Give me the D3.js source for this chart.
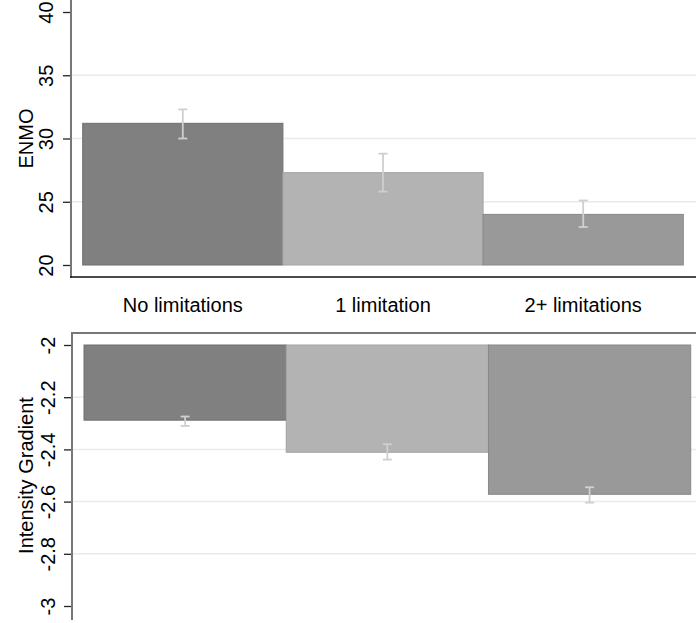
<!DOCTYPE html>
<html>
<head>
<meta charset="utf-8">
<script src="https://cdn.jsdelivr.net/npm/d3@7"></script>
<style>
  html, body { margin: 0; padding: 0; background: #fff; }
  svg { display: block; font-family: "Liberation Sans", Arial, sans-serif; }
</style>
</head>
<body>
<svg id="chart" width="696" height="623"></svg>
<script>
// Activity groups
const categories = ["No limitations", "1 limitation", "2+ limitations"];

// ENMO: group means with 95% CI
const enmoMean = [31.2, 27.3, 24.0];
const enmoLow  = [30.0, 25.8, 23.0];
const enmoHigh = [32.3, 28.8, 25.1];
const enmoTicks = [20, 25, 30, 35, 40];

// Intensity gradient: group means with 95% CI
const igMean = [-2.288, -2.411, -2.572];
const igLow  = [-2.310, -2.439, -2.604];
const igHigh = [-2.274, -2.380, -2.545];
const igTicks = [-2, -2.2, -2.4, -2.6, -2.8, -3];

const barFill   = ["#808080", "#b3b3b3", "#999999"];
const barStroke = ["#6e6e6e", "#a3a3a3", "#888888"];

const svg = d3.select("#chart");
const W = 696;

function drawPanel(opts) {
  const g = svg.append("g");
  const { x, y, mean, low, high, ticks, title, axisX, axisTop, axisBottom,
          base, labelOffset, frameLine, frameColor, frameY } = opts;

  // grid lines at interior ticks
  g.selectAll(".grid")
    .data(ticks.slice(1, -1))
    .join("line")
    .attr("x1", axisX).attr("x2", W)
    .attr("y1", d => y(d)).attr("y2", d => y(d))
    .attr("stroke", "#eaeaea").attr("stroke-width", 1.5);

  // bars
  g.selectAll(".bar")
    .data(categories)
    .join("rect")
    .attr("x", d => x(d))
    .attr("width", x.bandwidth())
    .attr("y", (d, i) => Math.min(y(base), y(mean[i])))
    .attr("height", (d, i) => Math.abs(y(mean[i]) - y(base)))
    .attr("fill", (d, i) => barFill[i])
    .attr("stroke", (d, i) => barStroke[i])
    .attr("stroke-width", 1);

  // confidence interval whiskers
  const cap = 4.5;
  const eb = g.selectAll(".err").data(categories).join("g")
    .attr("stroke", "#cfcfcf").attr("stroke-width", 1.8).attr("fill", "none");
  eb.append("line")
    .attr("x1", d => x(d) + x.bandwidth() / 2).attr("x2", d => x(d) + x.bandwidth() / 2)
    .attr("y1", (d, i) => y(low[i])).attr("y2", (d, i) => y(high[i]));
  eb.append("line")
    .attr("x1", d => x(d) + x.bandwidth() / 2 - cap).attr("x2", d => x(d) + x.bandwidth() / 2 + cap)
    .attr("y1", (d, i) => y(low[i])).attr("y2", (d, i) => y(low[i]));
  eb.append("line")
    .attr("x1", d => x(d) + x.bandwidth() / 2 - cap).attr("x2", d => x(d) + x.bandwidth() / 2 + cap)
    .attr("y1", (d, i) => y(high[i])).attr("y2", (d, i) => y(high[i]));

  // y axis
  const ax = g.append("g")
    .attr("transform", `translate(${axisX},0)`)
    .call(d3.axisLeft(y).tickValues(ticks).tickSize(8).tickFormat(d => String(d)));
  ax.select(".domain").remove();
  ax.selectAll(".tick line").attr("stroke", "#222").attr("stroke-width", 1.3);
  ax.selectAll(".tick text")
    .attr("x", null).attr("dy", null)
    .attr("transform", `translate(${labelOffset},0) rotate(-90)`)
    .attr("text-anchor", "middle")
    .attr("fill", "#000")
    .attr("font-size", 20)
    .attr("font-family", "'Liberation Sans', Arial, sans-serif");

  g.append("line")
    .attr("x1", axisX).attr("x2", axisX)
    .attr("y1", axisTop).attr("y2", axisBottom)
    .attr("stroke", "#777").attr("stroke-width", 2);

  // horizontal frame line (x axis)
  g.append("line")
    .attr("x1", axisX - 1).attr("x2", W)
    .attr("y1", frameY).attr("y2", frameY)
    .attr("stroke", frameColor).attr("stroke-width", frameLine);

  // axis title
  const midY = (y.range()[0] + y.range()[1]) / 2;
  g.append("text")
    .attr("transform", `translate(33,${midY}) rotate(-90)`)
    .attr("text-anchor", "middle")
    .attr("font-size", 20)
    .attr("fill", "#000")
    .text(title);
  return g;
}

// upper panel: ENMO
const xTop = d3.scaleBand().domain(categories).range([82.7, 683.3]).padding(0);
const yTop = d3.scaleLinear().domain([20, 40]).range([265, 12]);
drawPanel({
  x: xTop, y: yTop, mean: enmoMean, low: enmoLow, high: enmoHigh,
  ticks: enmoTicks, title: "ENMO", axisX: 71, axisTop: 0, axisBottom: 278,
  base: 20, labelOffset: -18, frameLine: 1.5, frameColor: "#111", frameY: 277
});

// category labels
svg.append("g").selectAll("text")
  .data(categories)
  .join("text")
  .attr("x", d => xTop(d) + xTop.bandwidth() / 2)
  .attr("y", 312)
  .attr("text-anchor", "middle")
  .attr("font-size", 20)
  .attr("fill", "#000")
  .text(d => d);

// lower panel: intensity gradient
const xBot = d3.scaleBand().domain(categories).range([84, 690.7]).padding(0);
const yBot = d3.scaleLinear().domain([-2, -3]).range([345, 606]);
drawPanel({
  x: xBot, y: yBot, mean: igMean, low: igLow, high: igHigh,
  ticks: igTicks, title: "Intensity Gradient", axisX: 72, axisTop: 332, axisBottom: 620,
  base: -2, labelOffset: -17, frameLine: 2, frameColor: "#777", frameY: 333
});
</script>
</body>
</html>
